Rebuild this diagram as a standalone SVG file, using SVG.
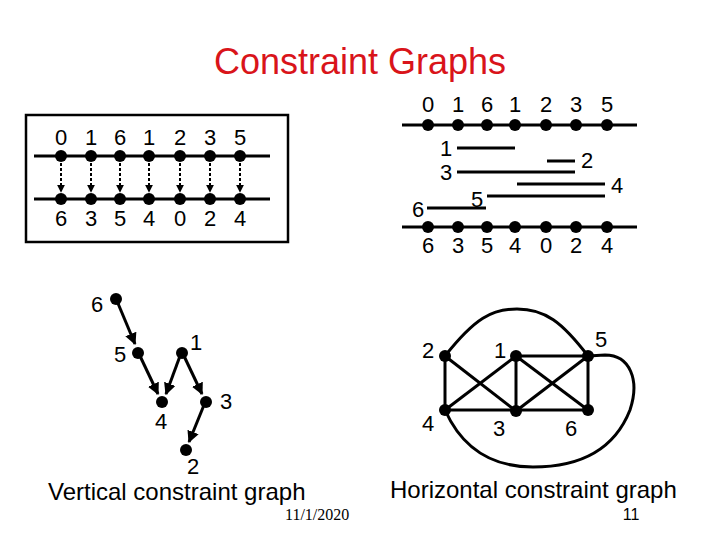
<svg xmlns="http://www.w3.org/2000/svg" width="720" height="540" viewBox="0 0 720 540">
<defs>
<style>
text{font-family:"Liberation Sans",Arial,sans-serif;fill:#000}
.t{font-size:36px;fill:#d9141a;text-anchor:middle}
.d{font-size:22px;text-anchor:middle}
.n{font-size:22px;text-anchor:middle}
.cap{font-size:24px}
.ln{stroke:#000;stroke-width:3;fill:none}
.seg{stroke:#000;stroke-width:3;fill:none}
.ed{stroke:#000;stroke-width:3;fill:none}
.ar{stroke:#000;stroke-width:3;fill:none;marker-end:url(#ah)}
.da{stroke:#000;stroke-width:2;stroke-dasharray:3 2;fill:none;marker-end:url(#sa)}
.dot{fill:#000}
</style>
<marker id="ah" viewBox="0 0 10 10" refX="9" refY="5" markerWidth="4" markerHeight="4" orient="auto" markerUnits="strokeWidth">
<path d="M0,0 L10,5 L0,10 z" fill="#000"/>
</marker>
<marker id="sa" viewBox="0 0 10 10" refX="9" refY="5" markerWidth="4" markerHeight="4" orient="auto" markerUnits="strokeWidth">
<path d="M0,0 L10,5 L0,10 z" fill="#000"/>
</marker>
</defs>
<rect width="720" height="540" fill="#fff"/>
<text class="t" x="360" y="74">Constraint Graphs</text>

<g id="channel-left">
<rect x="26" y="115" width="262" height="127" fill="none" stroke="#000" stroke-width="2.5"/>
<line class="ln" x1="34" y1="156" x2="270" y2="156"/>
<line class="ln" x1="34" y1="199" x2="270" y2="199"/>
<g class="dot">
<circle cx="61" cy="156" r="6"/><circle cx="91" cy="156" r="6"/><circle cx="120" cy="156" r="6"/><circle cx="149" cy="156" r="6"/><circle cx="180" cy="156" r="6"/><circle cx="210" cy="156" r="6"/><circle cx="240" cy="156" r="6"/>
<circle cx="61" cy="199" r="6"/><circle cx="91" cy="199" r="6"/><circle cx="120" cy="199" r="6"/><circle cx="149" cy="199" r="6"/><circle cx="180" cy="199" r="6"/><circle cx="210" cy="199" r="6"/><circle cx="240" cy="199" r="6"/>
</g>
<g>
<line class="da" x1="61" y1="163" x2="61" y2="192"/>
<line class="da" x1="91" y1="163" x2="91" y2="192"/>
<line class="da" x1="120" y1="163" x2="120" y2="192"/>
<line class="da" x1="149" y1="163" x2="149" y2="192"/>
<line class="da" x1="180" y1="163" x2="180" y2="192"/>
<line class="da" x1="210" y1="163" x2="210" y2="192"/>
<line class="da" x1="240" y1="163" x2="240" y2="192"/>
</g>
<text class="d" x="61" y="145">0</text><text class="d" x="91" y="145">1</text><text class="d" x="120" y="145">6</text><text class="d" x="149" y="145">1</text><text class="d" x="180" y="145">2</text><text class="d" x="210" y="145">3</text><text class="d" x="240" y="145">5</text>
<text class="d" x="61" y="226">6</text><text class="d" x="91" y="226">3</text><text class="d" x="120" y="226">5</text><text class="d" x="149" y="226">4</text><text class="d" x="180" y="226">0</text><text class="d" x="210" y="226">2</text><text class="d" x="240" y="226">4</text>
</g>

<g id="channel-right">
<line class="ln" x1="402" y1="125" x2="637" y2="125"/>
<line class="ln" x1="402" y1="227" x2="637" y2="227"/>
<g class="dot">
<circle cx="428" cy="125" r="6"/><circle cx="458" cy="125" r="6"/><circle cx="487" cy="125" r="6"/><circle cx="515" cy="125" r="6"/><circle cx="546" cy="125" r="6"/><circle cx="576" cy="125" r="6"/><circle cx="607" cy="125" r="6"/>
<circle cx="428" cy="227" r="6"/><circle cx="458" cy="227" r="6"/><circle cx="487" cy="227" r="6"/><circle cx="515" cy="227" r="6"/><circle cx="546" cy="227" r="6"/><circle cx="576" cy="227" r="6"/><circle cx="607" cy="227" r="6"/>
</g>
<text class="d" x="428" y="112">0</text><text class="d" x="458" y="112">1</text><text class="d" x="487" y="112">6</text><text class="d" x="515" y="112">1</text><text class="d" x="546" y="112">2</text><text class="d" x="576" y="112">3</text><text class="d" x="607" y="112">5</text>
<text class="d" x="428" y="253">6</text><text class="d" x="458" y="253">3</text><text class="d" x="487" y="253">5</text><text class="d" x="515" y="253">4</text><text class="d" x="546" y="253">0</text><text class="d" x="576" y="253">2</text><text class="d" x="607" y="253">4</text>
<line class="seg" x1="457" y1="148" x2="515" y2="148"/>
<line class="seg" x1="547" y1="161" x2="575" y2="161"/>
<line class="seg" x1="457" y1="172" x2="575" y2="172"/>
<line class="seg" x1="517" y1="184" x2="605" y2="184"/>
<line class="seg" x1="487" y1="196" x2="605" y2="196"/>
<line class="seg" x1="427" y1="208" x2="486" y2="208"/>
<text class="d" x="446" y="156">1</text>
<text class="d" x="587" y="168">2</text>
<text class="d" x="446" y="180">3</text>
<text class="d" x="617" y="193">4</text>
<text class="d" x="477" y="207">5</text>
<text class="d" x="418" y="217">6</text>
</g>

<g id="vcg-edges">
<line class="ar" x1="117" y1="301" x2="135" y2="344"/>
<line class="ar" x1="140" y1="356" x2="158" y2="394"/>
<line class="ar" x1="180" y1="356" x2="166" y2="394"/>
<line class="ar" x1="184" y1="356" x2="202" y2="394"/>
<line class="ar" x1="204" y1="405" x2="189" y2="442"/>
</g>
<g id="vcg-6"><circle class="dot" cx="116" cy="299" r="6"/><text class="n" x="97" y="312">6</text></g>
<g id="vcg-5"><circle class="dot" cx="138" cy="353" r="6"/><text class="n" x="120" y="362">5</text></g>
<g id="vcg-1"><circle class="dot" cx="182" cy="353" r="6"/><text class="n" x="196" y="350">1</text></g>
<g id="vcg-4"><circle class="dot" cx="162" cy="402" r="6"/><text class="n" x="161" y="429">4</text></g>
<g id="vcg-3"><circle class="dot" cx="206" cy="402" r="6"/><text class="n" x="226" y="409">3</text></g>
<g id="vcg-2"><circle class="dot" cx="186" cy="450" r="6"/><text class="n" x="193" y="474">2</text></g>

<g id="hcg-edges">
<line class="ed" x1="445" y1="356" x2="445" y2="410"/>
<line class="ed" x1="445" y1="356" x2="516" y2="411"/>
<line class="ed" x1="445" y1="410" x2="516" y2="356"/>
<line class="ed" x1="445" y1="410" x2="588" y2="410"/>
<line class="ed" x1="516" y1="356" x2="588" y2="356"/>
<line class="ed" x1="516" y1="356" x2="516" y2="411"/>
<line class="ed" x1="516" y1="356" x2="588" y2="410"/>
<line class="ed" x1="516" y1="411" x2="588" y2="356"/>
<line class="ed" x1="588" y1="356" x2="588" y2="410"/>
<path class="ed" d="M445,356 C475,318 492,309 517,309 C545,309 562,322 588,356"/>
<path class="ed" d="M445,410 C462,448 492,467 533,467 C582,467 615,448 630,410 C640,380 630,355 605,355 L588,356"/>
</g>
<g id="hcg-2"><circle class="dot" cx="445" cy="356" r="6"/><text class="n" x="428" y="358">2</text></g>
<g id="hcg-1"><circle class="dot" cx="516" cy="356" r="6"/><text class="n" x="500" y="358">1</text></g>
<g id="hcg-5"><circle class="dot" cx="588" cy="356" r="6"/><text class="n" x="601" y="347">5</text></g>
<g id="hcg-4"><circle class="dot" cx="445" cy="410" r="6"/><text class="n" x="428" y="431">4</text></g>
<g id="hcg-3"><circle class="dot" cx="516" cy="411" r="6"/><text class="n" x="499" y="436">3</text></g>
<g id="hcg-6"><circle class="dot" cx="588" cy="410" r="6"/><text class="n" x="571" y="436">6</text></g>

<text class="cap" x="48" y="500">Vertical constraint graph</text>
<text class="cap" x="390" y="498">Horizontal constraint graph</text>
<text x="285" y="520" style="font-family:'Liberation Serif','Times New Roman',serif;font-size:16px">11/1/2020</text>
<text x="631" y="520" style="font-size:16px;text-anchor:middle">11</text>
</svg>
